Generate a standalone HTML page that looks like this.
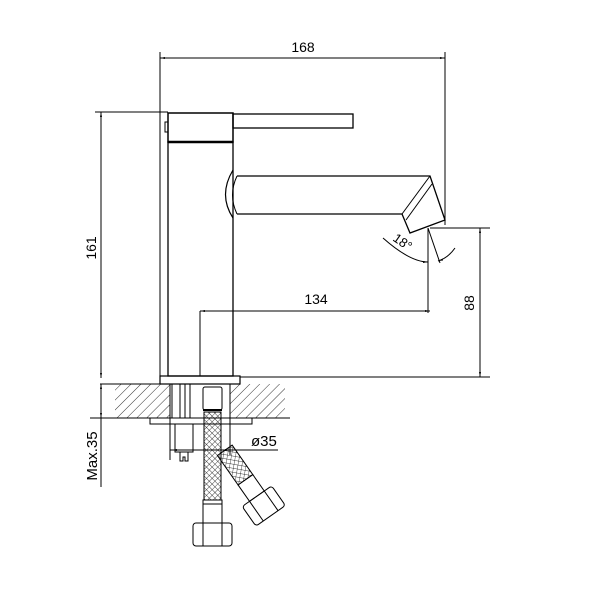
<!DOCTYPE html>
<html><head><meta charset="utf-8"><style>html,body{margin:0;padding:0;background:#fff}svg{display:block}</style></head>
<body>
<svg width="605" height="601" viewBox="0 0 605 601" xmlns="http://www.w3.org/2000/svg" font-family="Liberation Sans, sans-serif">
<defs>
<pattern id="h" width="7" height="7" patternUnits="userSpaceOnUse" patternTransform="rotate(45)"><line x1="0" y1="0" x2="0" y2="7" stroke="#000" stroke-width="0.8"/></pattern>
<pattern id="m" width="4" height="4" patternUnits="userSpaceOnUse" patternTransform="rotate(45)"><path d="M0 0H4M0 0V4" stroke="#000" stroke-width="0.7" fill="none"/></pattern>
<marker id="a" viewBox="0 0 10 10" refX="10" refY="5" markerWidth="9" markerHeight="5" orient="auto-start-reverse"><path d="M0 3L10 5L0 7z" fill="#000"/></marker>
</defs>
<g stroke="#000" fill="none" stroke-width="1">
<rect x="115" y="384" width="55" height="34" fill="url(#h)" stroke="none"/>
<rect x="230" y="384" width="55" height="34" fill="url(#h)" stroke="none"/>
<line x1="100" y1="384" x2="160" y2="384"/>
<line x1="90" y1="418" x2="290" y2="418"/>
<rect x="150" y="418" width="102" height="6"/>
<line x1="160" y1="52" x2="160" y2="384"/>
<line x1="445" y1="52" x2="445" y2="225"/>
<line x1="160" y1="58" x2="445" y2="58" marker-start="url(#a)" marker-end="url(#a)"/>
<line x1="95" y1="112" x2="168" y2="112"/>
<line x1="101" y1="112" x2="101" y2="378" marker-start="url(#a)" marker-end="url(#a)"/>
<line x1="101" y1="384" x2="101" y2="418" marker-start="url(#a)" marker-end="url(#a)"/>
<line x1="101" y1="418" x2="101" y2="487"/>
<line x1="240" y1="377" x2="490" y2="377"/>
<line x1="430" y1="228" x2="490" y2="228"/>
<line x1="480" y1="228" x2="480" y2="377" marker-start="url(#a)" marker-end="url(#a)"/>
<line x1="200" y1="311" x2="430" y2="311" marker-start="url(#a)" marker-end="url(#a)"/>
<line x1="200" y1="311" x2="200" y2="376"/>
<line x1="428" y1="228" x2="428" y2="313"/>
<line x1="428" y1="228" x2="440" y2="263"/>
<path d="M383 238 Q410 262 428 262" marker-end="url(#a)"/>
<path d="M455 248 Q448 258 438 261" marker-end="url(#a)"/>
<rect x="168" y="113" width="65" height="29" stroke-width="1.5"/>
<line x1="168" y1="142" x2="233" y2="142" stroke-width="2.5"/>
<rect x="233" y="114" width="120" height="14" stroke-width="1.3"/>
<rect x="165" y="122" width="3" height="10"/>
<rect x="168" y="142" width="65" height="234" stroke-width="1.3"/>
<rect x="160" y="376" width="80" height="8" stroke-width="1.2"/>
<path d="M233 170 Q218 195 233 218" stroke-width="1.2"/>
<path d="M237 176 Q228 195 237 214"/>
<path d="M237 176 H430 L445 220 L410 233 L402 214 H237" stroke-width="1.3"/>
<line x1="402" y1="214" x2="430" y2="176"/>
<line x1="406" y1="220" x2="432" y2="184"/>
<line x1="170" y1="384" x2="170" y2="460"/>
<line x1="230" y1="384" x2="230" y2="455"/>
<rect x="172" y="384" width="18" height="34"/>
<line x1="180" y1="384" x2="180" y2="418"/><line x1="185" y1="384" x2="185" y2="418"/>
<rect x="175" y="424" width="18" height="28"/>
<path d="M180 452 V461 H183 V457 H185 V461 H188 V452"/>
<line x1="170" y1="450" x2="278" y2="450"/>
<line x1="172" y1="450" x2="190" y2="450" marker-start="url(#a)"/>
<line x1="212" y1="450" x2="230" y2="450" marker-end="url(#a)"/>
<rect x="203" y="387" width="19" height="23" rx="2"/>
<line x1="203" y1="410" x2="222" y2="410" stroke-width="2"/>
<rect x="204" y="412" width="17" height="88" fill="url(#m)"/>
<rect x="203" y="500" width="19" height="23"/>
<line x1="203" y1="504" x2="222" y2="504"/>
<rect x="193" y="523" width="39" height="23" rx="3"/>
<line x1="203" y1="523" x2="203" y2="546"/><line x1="222" y1="523" x2="222" y2="546"/>
<g transform="translate(222,462) rotate(-35)">
<rect x="0" y="-8" width="18" height="36" fill="url(#m)"/>
<rect x="0" y="28" width="18" height="20"/>
<rect x="-9" y="48" width="36" height="24" rx="3"/>
<line x1="0" y1="48" x2="0" y2="72"/><line x1="18" y1="48" x2="18" y2="72"/>
</g>
</g>
<g font-size="14" fill="#000">
<text x="303" y="52" text-anchor="middle">168</text>
<text x="316" y="304" text-anchor="middle">134</text>
<text x="251" y="446" font-size="15">ø35</text>
<text transform="translate(96,248) rotate(-90)" text-anchor="middle">161</text>
<text transform="translate(474,303) rotate(-90)" text-anchor="middle">88</text>
<text transform="translate(97,456) rotate(-90)" text-anchor="middle" font-size="15">Max.35</text>
<text transform="translate(392,240) rotate(35)" font-size="13">18°</text>
</g>
</svg>
</body></html>
